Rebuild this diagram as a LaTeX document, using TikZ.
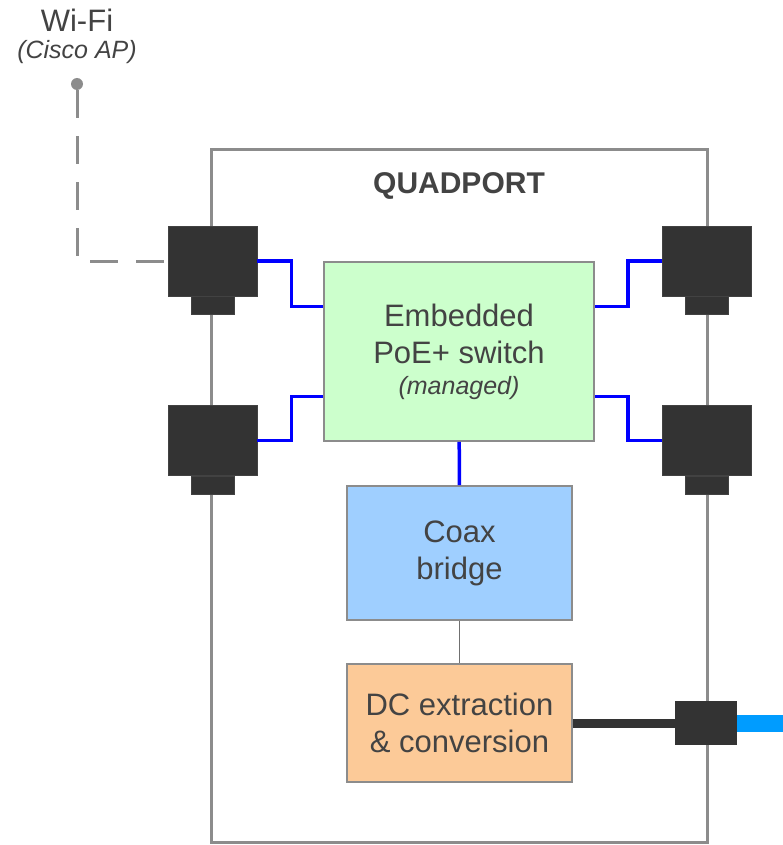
\documentclass[tikz,border=0pt]{standalone}
\usepackage{fontspec}
\setmainfont{Liberation Sans}
\usetikzlibrary{positioning}
\definecolor{portgray}{HTML}{333333}
\definecolor{framegray}{HTML}{8C8C8C}
\definecolor{txtgray}{HTML}{434343}
\definecolor{switchgreen}{HTML}{CCFFCC}
\definecolor{coaxblue}{HTML}{9FCFFF}
\definecolor{dcorange}{HTML}{FCCA98}
\definecolor{cableblue}{HTML}{009CFF}

\begin{document}
\begin{tikzpicture}[x=1pt, y=-1pt, text=txtgray,
    font=\fontsize{31}{37}\selectfont,
    frame/.style={draw=framegray, line width=3pt},
    block/.style={draw=framegray, line width=1.6pt, align=center, inner sep=0pt},
    port/.style={fill=portgray, draw=portgray!80!gray, line width=0.8pt, minimum width=89pt, minimum height=70pt, inner sep=0pt},
    tab/.style={fill=portgray, draw=portgray!80!gray, line width=0.8pt, minimum width=43pt, minimum height=18pt, inner sep=0pt},
    wire/.style={draw=blue, line width=3.5pt},
    link/.style={draw=framegray, line width=3pt, dash pattern=on 28pt off 18pt}]
      \useasboundingbox (0, 0) rectangle (783, 845);
      \draw[frame] (211, 150) rectangle (707, 842);
      \node[font=\fontsize{30}{34}\bfseries] (title) at (459, 186) {QUADPORT};

      \node[block, fill=switchgreen, minimum width=270pt, minimum height=179pt] (switch) at (459, 351.5)
            {Embedded\\PoE+ switch\\[-6pt]{\fontsize{25}{28}\itshape (managed)}};
      \node[block, fill=coaxblue, minimum width=225pt, minimum height=134pt] (coax) at (459.5, 553) {Coax\\bridge};
      \node[block, fill=dcorange, minimum width=225pt, minimum height=118pt] (dc) at (459.5, 723)
            {DC extraction\\\& conversion};

      \node[port] (pla) at (212.5, 261) {};
      \node[tab, below=0pt of pla] (platab) {};
      \node[port] (plb) at (212.5, 440.5) {};
      \node[tab, below=0pt of plb] (plbtab) {};
      \node[port] (pra) at (707, 261) {};
      \node[tab, below=0pt of pra] (pratab) {};
      \node[port] (prb) at (707, 440.5) {};
      \node[tab, below=0pt of prb] (prbtab) {};
      \node[fill=portgray, minimum width=62pt, minimum height=44pt, inner sep=0pt] (power) at (706, 723) {};
      \coordinate (cable) at (783, 723);

      \draw[wire] (pla.east) -- ++(34, 0) |- ([yshift=45pt]switch.west);
      \draw[wire] (plb.east) -- ++(34, 0) |- ([yshift=-45pt]switch.west);
      \draw[wire] (pra.west) -- ++(-34, 0) |- ([yshift=45pt]switch.east);
      \draw[wire] (prb.west) -- ++(-34, 0) |- ([yshift=-45pt]switch.east);
      \draw[wire] (switch) -- (coax);
      \draw[framegray!80!black, line width=1.8pt] (coax) -- (dc);
      \draw[portgray, line width=9pt] (dc.east) -- (power.west);
      \draw[cableblue, line width=17pt] (power.east) -- (cable);

      \node (wifi) at (77, 20) {Wi-Fi};
      \node[font=\fontsize{25}{28}\itshape] (ap) at (77, 52) {(Cisco AP)};
      \node[circle, fill=framegray, minimum size=12pt, inner sep=0pt] (dot) at (77, 84) {};
      \draw[link] (dot) |- (pla.west);
    \end{tikzpicture}
\end{document}
